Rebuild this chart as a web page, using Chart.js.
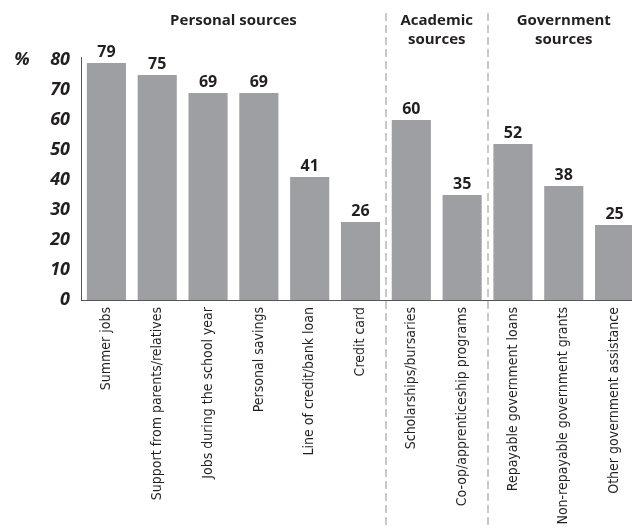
<!DOCTYPE html>
<html><head><meta charset="utf-8">
<script src="https://cdn.jsdelivr.net/npm/chart.js@4"></script>
<style>html,body{margin:0;padding:0;overflow:hidden;background:#fff;width:632px;height:529px}
#wrap{position:relative;width:640px;height:529px}</style>
</head><body><div id="wrap"><canvas id="c" width="640" height="529"></canvas></div>
<script>
const categories = ["Summer jobs","Support from parents/relatives","Jobs during the school year","Personal savings","Line of credit/bank loan","Credit card","Scholarships/bursaries","Co-op/apprenticeship programs","Repayable government loans","Non-repayable government grants","Other government assistance"];
const values = [79,75,69,69,41,26,60,35,52,38,25];
const yTicks = [0,10,20,30,40,50,60,70,80];
const groups = [
  {lines:["Personal sources"], from:0, to:5},
  {lines:["Academic","sources"], from:6, to:7},
  {lines:["Government","sources"], from:8, to:10}
];
const separators = [5, 7]; // after these category indexes

const TEXT = '#231f20';
const headFont = 'bold 15px "Open Sans", "DejaVu Sans", sans-serif';
const valFont = 'bold 16px "Open Sans", "DejaVu Sans", sans-serif';

const overlay = {
  id:'overlay',
  afterDatasetsDraw(chart){
    const ctx = chart.ctx, x = chart.scales.x, y = chart.scales.y;
    const meta = chart.getDatasetMeta(0);
    ctx.save();
    // value labels
    ctx.fillStyle = TEXT; ctx.font = valFont; ctx.textAlign='center'; ctx.textBaseline='alphabetic';
    meta.data.forEach((bar,i)=>{ ctx.fillText(String(values[i]), bar.x, bar.y - 6); });
    // separators
    ctx.strokeStyle = '#c9c9c9'; ctx.lineWidth = 2; ctx.setLineDash([8,4]);
    separators.forEach(s=>{
      const px = Math.round((x.getPixelForTick(s)+x.getPixelForTick(s+1))/2);
      ctx.beginPath(); ctx.moveTo(px, 13); ctx.lineTo(px, chart.height); ctx.stroke();
    });
    ctx.setLineDash([]);
    // group headers
    ctx.fillStyle = TEXT; ctx.font = headFont; ctx.textAlign='center'; ctx.textBaseline='middle';
    groups.forEach(g=>{
      const cx = (x.getPixelForTick(g.from)+x.getPixelForTick(g.to))/2;
      g.lines.forEach((l,k)=> ctx.fillText(l, cx, 21 + k*19));
    });
    // percent sign
    ctx.font = 'bold italic 18px "Open Sans", "DejaVu Sans", sans-serif';
    ctx.textAlign='center';
    ctx.fillText('%', 22, y.getPixelForValue(80));
    ctx.restore();
  }
};

new Chart(document.getElementById('c'), {
  type:'bar',
  data:{ labels:categories, datasets:[{ data:values, backgroundColor:'#9e9fa3', borderWidth:0, barPercentage:0.77, categoryPercentage:1 }] },
  options:{
    responsive:false, animation:false,
    layout:{ padding:{ top:57, left:0, right:0, bottom:0 } },
    plugins:{ legend:{display:false}, tooltip:{enabled:false} },
    scales:{
      x:{
        grid:{ display:false, drawTicks:false },
        border:{ color:'#555', width:1 },
        ticks:{ color:TEXT, maxRotation:90, minRotation:90, padding:7, autoSkip:false,
          font:{ family:'"Liberation Sans Narrow", "DejaVu Sans Condensed", sans-serif', size:14 } },
        afterFit(s){ s.height = 229; }
      },
      y:{
        min:0, max:81,
        grid:{ display:false, drawTicks:false },
        border:{ color:'#555', width:1 },
        afterBuildTicks(s){ s.ticks = yTicks.map(v=>({value:v})); },
        ticks:{ color:TEXT, padding:11, font:{ family:'"Open Sans", "DejaVu Sans", sans-serif', size:18, weight:'bold', style:'italic' } },
        afterFit(s){ s.width = 81; }
      }
    }
  },
  plugins:[overlay]
});
</script></body></html>
